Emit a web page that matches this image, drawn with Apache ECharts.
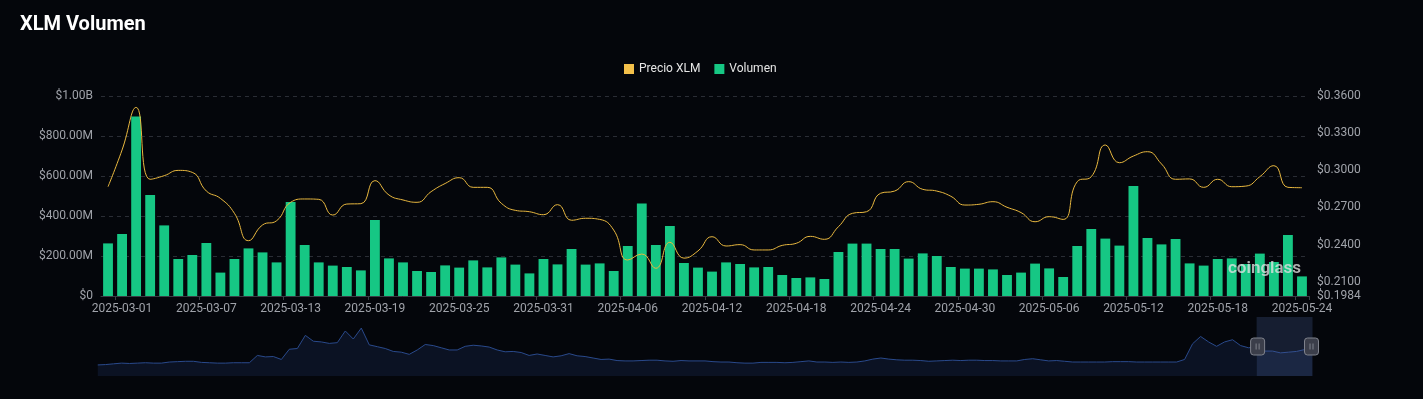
<!DOCTYPE html>
<html><head><meta charset="utf-8">
<script src="https://cdn.jsdelivr.net/npm/echarts@6/dist/echarts.min.js"></script>
<style>html,body{margin:0;padding:0;background:#04060b;}#c{width:1423px;height:399px;}</style>
</head><body><div id="c"></div>
<script>
const dates = [
'2025-02-28','2025-03-01','2025-03-02','2025-03-03','2025-03-04','2025-03-05','2025-03-06','2025-03-07','2025-03-08','2025-03-09',
'2025-03-10','2025-03-11','2025-03-12','2025-03-13','2025-03-14','2025-03-15','2025-03-16','2025-03-17','2025-03-18','2025-03-19',
'2025-03-20','2025-03-21','2025-03-22','2025-03-23','2025-03-24','2025-03-25','2025-03-26','2025-03-27','2025-03-28','2025-03-29',
'2025-03-30','2025-03-31','2025-04-01','2025-04-02','2025-04-03','2025-04-04','2025-04-05','2025-04-06','2025-04-07','2025-04-08',
'2025-04-09','2025-04-10','2025-04-11','2025-04-12','2025-04-13','2025-04-14','2025-04-15','2025-04-16','2025-04-17','2025-04-18',
'2025-04-19','2025-04-20','2025-04-21','2025-04-22','2025-04-23','2025-04-24','2025-04-25','2025-04-26','2025-04-27','2025-04-28',
'2025-04-29','2025-04-30','2025-05-01','2025-05-02','2025-05-03','2025-05-04','2025-05-05','2025-05-06','2025-05-07','2025-05-08',
'2025-05-09','2025-05-10','2025-05-11','2025-05-12','2025-05-13','2025-05-14','2025-05-15','2025-05-16','2025-05-17','2025-05-18',
'2025-05-19','2025-05-20','2025-05-21','2025-05-22','2025-05-23','2025-05-24'];

// Volume in millions of USD
const volumes = [
263,310,897,505,353,185,205,265,117,185,
238,218,168,470,255,168,152,145,128,380,
188,168,125,120,153,142,178,143,193,157,
113,185,158,235,157,163,125,250,463,255,
350,165,142,122,168,160,143,145,105,90,
93,85,220,262,262,235,235,187,213,200,
145,137,137,133,105,117,162,138,95,250,
335,287,252,550,290,258,285,163,152,185,
188,160,212,170,305,98];

// XLM price in USD
const prices = [
0.2867,0.3164,0.3508,0.2927,0.2956,0.2999,0.2983,0.2832,0.2773,0.2652,
0.2431,0.2558,0.2592,0.2741,0.2768,0.2765,0.2638,0.2727,0.2730,0.2916,
0.2800,0.2760,0.2741,0.2827,0.2893,0.2940,0.2862,0.2862,0.2733,0.2676,
0.2665,0.2641,0.2722,0.2596,0.2612,0.2603,0.2517,0.2275,0.2323,0.2208,
0.2418,0.2290,0.2348,0.2463,0.2388,0.2399,0.2356,0.2356,0.2393,0.2410,
0.2466,0.2442,0.2544,0.2652,0.2665,0.2814,0.2832,0.2908,0.2846,0.2832,
0.2790,0.2719,0.2725,0.2746,0.2701,0.2658,0.2584,0.2625,0.2603,0.2908,
0.2948,0.3204,0.3061,0.3115,0.3150,0.3051,0.2927,0.2930,0.2862,0.2927,
0.2867,0.2872,0.2948,0.3037,0.2862,0.2859];

const sliderHistory = [
34,35,37,39,38,39,40,39,39,42,43,44,44,41,40,39,39,40,40,40,
60,56,57,49,77,79,115,99,97,93,95,127,105,135,89,84,79,71,69,63,
75,90,87,81,75,75,85,88,86,83,75,70,71,68,60,64,60,56,59,65,
59,57,53,49,50,46,45,45,46,47,47,45,44,46,45,45,45,43,42,42,
40,39,39,41,41,41,40,41,43,45,42,42,41,42,41,42,45,50,53,50,
48,47,47,46,44,45,46,47,46,47,47,46,46,45,45,45,49,51,48,45,
46,44,42,42,42,42,42,43,43,43,42,42,42,42,42,42,49,92,112,97,
85,97,103,87,81,83,72,72,67,69,71,76,79];

const FONT = 'Roboto';
const labelInterval = (i) => i % 6 === 1;
const volFmt = (v) => v === 0 ? '$0' : (v >= 1e9 ? '$' + (v / 1e9).toFixed(2) + 'B' : '$' + (v / 1e6).toFixed(2) + 'M');

const chart = echarts.init(document.getElementById('c'));
chart.setOption({
  backgroundColor: '#04060b',
  animation: false,
  title: { text: 'XLM Volumen', left: 15, top: 10,
    textStyle: { color: '#ffffff', fontSize: 20, fontWeight: 'bold', fontFamily: FONT } },
  legend: { data: ['Precio XLM', 'Volumen'], top: 58, left: 619, icon: 'rect',
    itemWidth: 10, itemHeight: 10, itemGap: 14,
    textStyle: { color: '#e6e6e6', fontSize: 12, fontFamily: FONT } },
  grid: [
    { left: 101, right: 114, top: 96, height: 200 },
    { left: 95, right: 112, top: 317, height: 59, show: false }
  ],
  xAxis: [
    { type: 'category', gridIndex: 0, data: dates, boundaryGap: true,
      axisLine: { lineStyle: { color: '#3a3d45' } },
      axisTick: { show: true, interval: labelInterval, length: 4, lineStyle: { color: '#3a3d45' } },
      axisLabel: { interval: labelInterval, color: '#a0a3aa', fontSize: 12, fontFamily: FONT, margin: 7 } },
    { type: 'category', gridIndex: 1, data: sliderHistory.map((_, i) => i), show: false }
  ],
  yAxis: [
    { type: 'value', gridIndex: 0, position: 'left', min: 0, max: 1e9, interval: 2e8,
      axisLine: { show: false }, axisTick: { show: false },
      axisLabel: { formatter: volFmt, color: '#a0a3aa', fontSize: 12, fontFamily: FONT, margin: 8 },
      splitLine: { show: true, lineStyle: { color: '#2a2d35', type: [4, 4] } } },
    { type: 'value', gridIndex: 0, position: 'right', min: 0.1984, max: 0.36,
      axisLine: { show: false }, axisTick: { show: false },
      axisLabel: { formatter: (v) => '$' + v.toFixed(4), color: '#a0a3aa', fontSize: 12, fontFamily: FONT, margin: 8 },
      splitLine: { show: false } },
    { type: 'value', gridIndex: 1, show: false, scale: true }
  ],
  dataZoom: [{
    type: 'slider', xAxisIndex: 1, start: 95.4, end: 100,
    left: 95, right: 113, top: 317, height: 59,
    backgroundColor: 'rgba(0,0,0,0)', borderColor: 'rgba(0,0,0,0)', borderRadius: 0,
    fillerColor: 'rgba(72,94,150,0.28)',
    dataBackground: { lineStyle: { color: '#2a4a8c', width: 1, opacity: 1 }, areaStyle: { color: '#0b1223', opacity: 1 } },
    selectedDataBackground: { lineStyle: { color: '#2a4a8c', width: 1, opacity: 1 }, areaStyle: { color: '#0b1223', opacity: 1 } },
    handleIcon: 'path://M3,0H11A3,3,0,0,1,14,3V14A3,3,0,0,1,11,17H3A3,3,0,0,1,0,14V3A3,3,0,0,1,3,0Z M5.5,5.5V11.5 M8.5,5.5V11.5',
    handleSize: 17,
    handleStyle: { color: '#3b3e4a', borderColor: '#7f828c', borderWidth: 1 },
    moveHandleSize: 0, showDetail: false, brushSelect: false, zoomLock: true
  }],
  graphic: [
    { type: 'text', left: 1228, top: 260, silent: true, z: 100,
      style: { text: 'coinglass', fill: 'rgba(225,225,225,0.78)', font: '600 17px Roboto' } }
  ],
  series: [
    { name: 'Volumen', type: 'bar', xAxisIndex: 0, yAxisIndex: 0, data: volumes.map(v => v * 1e6),
      barWidth: '70%', itemStyle: { color: '#16c784' } },
    { name: 'Precio XLM', type: 'line', xAxisIndex: 0, yAxisIndex: 1, data: prices, smooth: true,
      symbol: 'none', showSymbol: false, lineStyle: { color: '#e9b83f', width: 1 }, itemStyle: { color: '#f3c04a' }, z: 5 },
    { name: 'history', type: 'line', xAxisIndex: 1, yAxisIndex: 2, data: sliderHistory,
      symbol: 'none', showSymbol: false, silent: true, lineStyle: { opacity: 0 } }
  ]
});
</script></body></html>
